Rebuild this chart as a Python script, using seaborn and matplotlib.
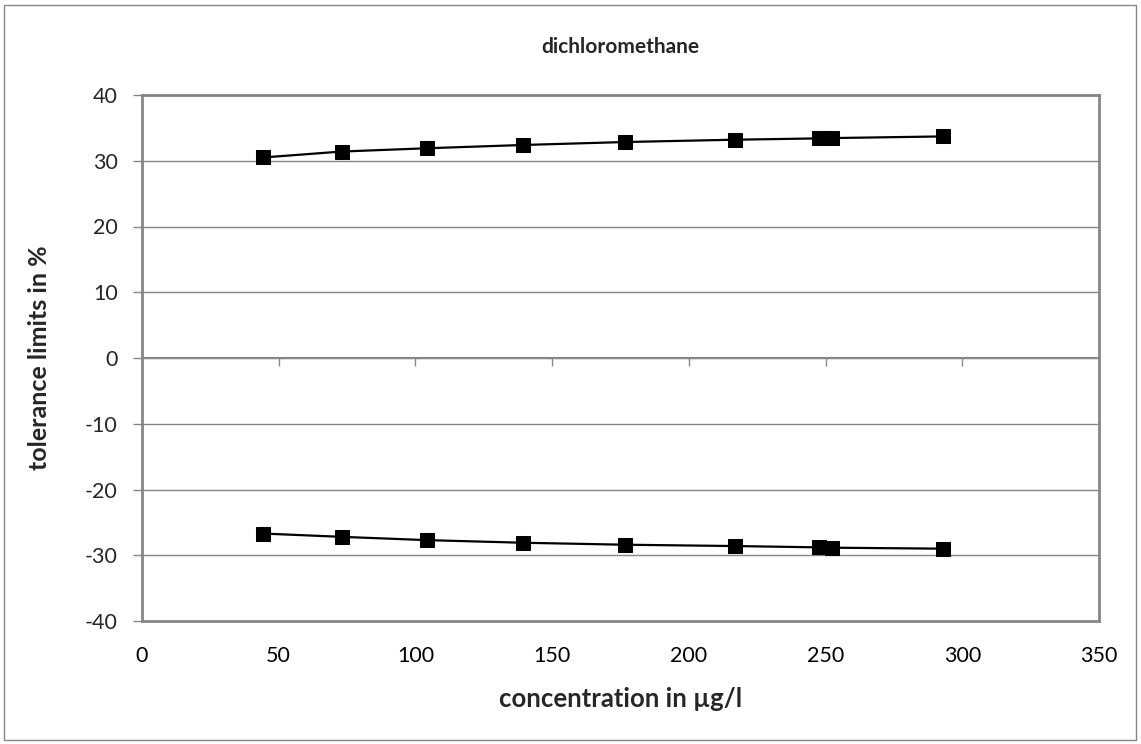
import pandas as pd
import matplotlib.pyplot as plt
import seaborn as sns
from matplotlib.patches import Rectangle

# concentration (µg/l) and tolerance limits (%)
conc = [44.3, 73.0, 104.2, 139.5, 176.8, 216.8, 247.5, 252.4, 292.9]
upper = [30.5, 31.4, 31.9, 32.4, 32.85, 33.2, 33.4, 33.45, 33.7]
lower = [-26.7, -27.2, -27.7, -28.1, -28.4, -28.6, -28.8, -28.85, -29.0]

x_ticks = [0, 50, 100, 150, 200, 250, 300, 350]
y_ticks = [40, 30, 20, 10, 0, -10, -20, -30, -40]

df = pd.DataFrame({'conc': conc, 'upper': upper, 'lower': lower})

sns.set_style('white')
plt.rcParams['font.family'] = ['Lato', 'DejaVu Sans']
plt.rcParams['axes.unicode_minus'] = False

grey = '#868686'

fig = plt.figure(figsize=(11.41, 7.44), dpi=100)
ax = fig.add_axes([142 / 1141, 1 - 621 / 744, (1099 - 142) / 1141, (621 - 95) / 744])

for col in ['upper', 'lower']:
    sns.lineplot(data=df, x='conc', y=col, ax=ax, sort=False, color='black',
                 linewidth=1.6, marker='s', markersize=10, markeredgecolor='black',
                 zorder=3)

ax.set_xlim(0, 350)
ax.set_ylim(-40, 40)
ax.set_xticks(x_ticks)
ax.set_yticks(y_ticks)
ax.grid(axis='y', color=grey, linewidth=1)
ax.set_axisbelow(True)

for s in ax.spines.values():
    s.set_color(grey)
    s.set_linewidth(2)

ax.tick_params(axis='x', length=0, labelsize=15.5, pad=18, colors='black')
ax.tick_params(axis='y', length=6.5, width=1, color=grey, labelsize=15.5, pad=11, left=True)

# horizontal axis crossing at 0 with downward tick marks
ax.axhline(0, color=grey, linewidth=1.5, zorder=2)
sec = ax.secondary_xaxis(0.5)
sec.xaxis.set_ticks_position('bottom')
sec.set_xticks(x_ticks[1:-1])
sec.set_xticklabels([])
sec.tick_params(axis='x', direction='out', length=6, width=1, color=grey)
for s in sec.spines.values():
    s.set_visible(False)

ax.set_xlabel('concentration in µg/l', fontsize=18.5, fontweight='bold', labelpad=15)
ax.set_ylabel('tolerance limits in %', fontsize=18, fontweight='bold', labelpad=24)
fig.text((142 + 1099) / 2 / 1141, 1 - 47 / 744, 'dichloromethane', ha='center',
         va='center', fontsize=15, fontweight='bold')

fig.patches.append(Rectangle((4 / 1141, 4 / 744), 1 - 9 / 1141, 1 - 9 / 744,
                             transform=fig.transFigure, fill=False,
                             edgecolor=grey, linewidth=1))

fig.savefig('out.png', dpi=100)
plt.close()
